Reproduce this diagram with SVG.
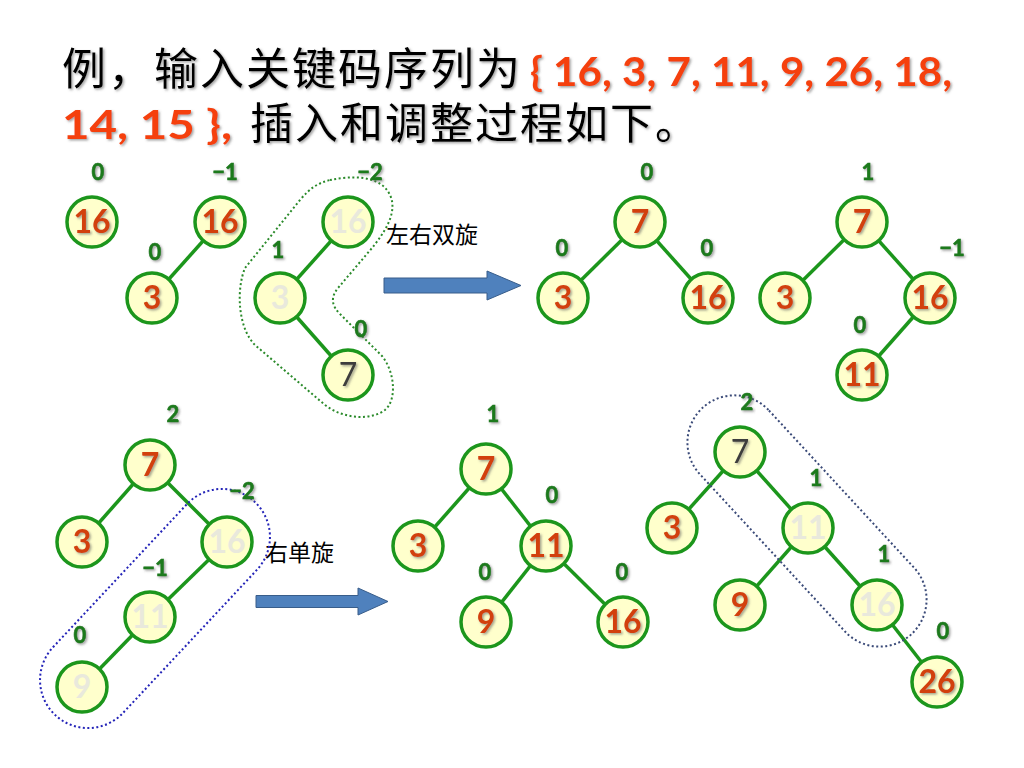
<svg xmlns="http://www.w3.org/2000/svg" width="1024" height="768" viewBox="0 0 1024 768">
<defs>
<filter id="sh" x="-20%" y="-20%" width="140%" height="140%">
<feDropShadow dx="1.5" dy="1.5" stdDeviation="0.8" flood-color="#555" flood-opacity="0.55"/>
</filter>
<style>
.n circle{fill:#FFFFCC;stroke:#1C961C;stroke-width:3.5}
.n text{font-family:Lato,"Open Sans","Liberation Sans",sans-serif;font-weight:bold;font-size:32px;text-anchor:middle;fill:#D2400C;filter:url(#sh)}
.n text.f{fill:#E9E9DC;filter:none}
.n text.d{fill:#3C3C3C;font-weight:normal}
.e line{stroke:#1C961C;stroke-width:3.5}
.b{font-family:Lato,"Open Sans","Liberation Sans",sans-serif;font-weight:bold;font-size:22px;text-anchor:middle;fill:#1F7A1F;stroke:#1F7A1F;stroke-width:0.6;filter:url(#sh)}
.cj{font-family:"Noto Sans CJK SC","Noto Sans CJK JP",sans-serif;fill:#000}
.tr{font-family:Lato,"Open Sans","Liberation Sans",sans-serif;font-weight:bold;fill:#F5400F}
.arr{fill:#4F81BD;stroke:#385D8A;stroke-width:1}
</style>
</defs>
<rect width="1024" height="768" fill="#fff"/>

<g id="title" filter="url(#sh)">
<text class="cj" x="62" y="85" font-size="44" letter-spacing="2">例，输入关键码序列为</text>
<text class="tr" x="530" y="86" font-size="40" textLength="422" lengthAdjust="spacingAndGlyphs">{ 16, 3, 7, 11, 9, 26, 18,</text>
<text class="tr" x="62" y="139" font-size="40" textLength="170" lengthAdjust="spacingAndGlyphs">14, 15 },</text>
<text class="cj" x="250" y="139" font-size="43" letter-spacing="2">插入和调整过程如下。</text>
</g>

<g id="outlines" fill="none">
<path d="M330,180 C350,176 380,174 390,195 C398,212 385,232 372,248 L338,288 C330,298 332,306 340,314 L382,356 C395,372 397,400 385,410 C372,420 345,420 325,405 L255,345 C238,328 236,290 245,268 L300,200 C310,188 318,183 330,180 Z" stroke="#2A8A2A" stroke-width="2" stroke-dasharray="2 2.5"/>
</g>

<g id="connectors" class="e">
<line x1="220" y1="222" x2="152" y2="298"/>
<line x1="348" y1="222" x2="280" y2="298"/>
<line x1="280" y1="298" x2="348" y2="375"/>
<line x1="640" y1="222" x2="563" y2="298"/>
<line x1="640" y1="222" x2="708" y2="298"/>
<line x1="862" y1="222" x2="785" y2="298"/>
<line x1="862" y1="222" x2="930" y2="298"/>
<line x1="930" y1="298" x2="862" y2="375"/>
<line x1="150" y1="465" x2="82" y2="542"/>
<line x1="150" y1="465" x2="227" y2="542"/>
<line x1="227" y1="542" x2="150" y2="617"/>
<line x1="150" y1="617" x2="82" y2="687"/>
<line x1="486" y1="469" x2="418" y2="546"/>
<line x1="486" y1="469" x2="546" y2="546"/>
<line x1="546" y1="546" x2="486" y2="622"/>
<line x1="546" y1="546" x2="623" y2="622"/>
<line x1="740" y1="452" x2="672" y2="528"/>
<line x1="740" y1="452" x2="808" y2="528"/>
<line x1="808" y1="528" x2="740" y2="605"/>
<line x1="808" y1="528" x2="877" y2="605"/>
<line x1="877" y1="605" x2="937" y2="682"/>
</g>

<g id="arrow1"><polygon class="arr" points="384,278 487,278 487,271 521,285.5 487,300 487,293 384,293"/></g>
<g id="arrow2"><polygon class="arr" points="256,595.5 358,595.5 358,588 388,601.5 358,615 358,607.5 256,607.5"/></g>
<text id="lbl1" class="cj" x="386" y="243" font-size="23">左右双旋</text>
<text id="lbl2" class="cj" x="265" y="561" font-size="23">右单旋</text>

<g id="a1_16" class="n"><circle cx="92" cy="222" r="25"/><text x="92" y="233">16</text></g>
<g id="a2_16" class="n"><circle cx="220" cy="222" r="25"/><text x="220" y="233">16</text></g>
<g id="a2_3" class="n"><circle cx="152" cy="298" r="25"/><text x="152" y="309">3</text></g>
<g id="a3_16" class="n"><circle cx="348" cy="222" r="25"/><text class="f" x="348" y="233">16</text></g>
<g id="a3_3" class="n"><circle cx="280" cy="298" r="25"/><text class="f" x="280" y="309">3</text></g>
<g id="a3_7" class="n"><circle cx="348" cy="375" r="25"/><text class="d" x="348" y="386">7</text></g>

<g id="b1_7" class="n"><circle cx="640" cy="222" r="25"/><text x="640" y="233">7</text></g>
<g id="b1_3" class="n"><circle cx="563" cy="298" r="25"/><text x="563" y="309">3</text></g>
<g id="b1_16" class="n"><circle cx="708" cy="298" r="25"/><text x="708" y="309">16</text></g>
<g id="b2_7" class="n"><circle cx="862" cy="222" r="25"/><text x="862" y="233">7</text></g>
<g id="b2_3" class="n"><circle cx="785" cy="298" r="25"/><text x="785" y="309">3</text></g>
<g id="b2_16" class="n"><circle cx="930" cy="298" r="25"/><text x="930" y="309">16</text></g>
<g id="b2_11" class="n"><circle cx="862" cy="375" r="25"/><text x="862" y="386">11</text></g>

<g id="c1_7" class="n"><circle cx="150" cy="465" r="25"/><text x="150" y="476">7</text></g>
<g id="c1_3" class="n"><circle cx="82" cy="542" r="25"/><text x="82" y="553">3</text></g>
<g id="c1_16" class="n"><circle cx="227" cy="542" r="25"/><text class="f" x="227" y="553">16</text></g>
<g id="c1_11" class="n"><circle cx="150" cy="617" r="25"/><text class="f" x="150" y="628">11</text></g>
<g id="c1_9" class="n"><circle cx="82" cy="687" r="25"/><text class="f" x="82" y="698">9</text></g>

<g id="c2_7" class="n"><circle cx="486" cy="469" r="25"/><text x="486" y="480">7</text></g>
<g id="c2_3" class="n"><circle cx="418" cy="546" r="25"/><text x="418" y="557">3</text></g>
<g id="c2_11" class="n"><circle cx="546" cy="546" r="25"/><text x="546" y="557">11</text></g>
<g id="c2_9" class="n"><circle cx="486" cy="622" r="25"/><text x="486" y="633">9</text></g>
<g id="c2_16" class="n"><circle cx="623" cy="622" r="25"/><text x="623" y="633">16</text></g>

<g id="c3_7" class="n"><circle cx="740" cy="452" r="25"/><text class="d" x="740" y="463">7</text></g>
<g id="c3_3" class="n"><circle cx="672" cy="528" r="25"/><text x="672" y="539">3</text></g>
<g id="c3_11" class="n"><circle cx="808" cy="528" r="25"/><text class="f" x="808" y="539">11</text></g>
<g id="c3_9" class="n"><circle cx="740" cy="605" r="25"/><text x="740" y="616">9</text></g>
<g id="c3_16" class="n"><circle cx="877" cy="605" r="25"/><text class="f" x="877" y="616">16</text></g>
<g id="c3_26" class="n"><circle cx="937" cy="682" r="25"/><text x="937" y="693">26</text></g>

<g id="outlines2" fill="none" stroke-width="2" stroke-dasharray="2 2.5">
<rect x="9" y="560.5" width="292" height="96" rx="48" transform="rotate(-46.9 155 608.5)" stroke="#2424B8"/>
<rect x="653" y="474" width="308" height="94" rx="47" transform="rotate(47.3 807 521)" stroke="#3A4A78"/>
</g>

<g id="balance">
<text class="b" x="98" y="180">0</text>
<text class="b" x="225" y="180">−1</text>
<text class="b" x="155" y="260">0</text>
<text class="b" x="278" y="258">1</text>
<text class="b" x="370" y="180">−2</text>
<text class="b" x="361" y="337">0</text>
<text class="b" x="647" y="180">0</text>
<text class="b" x="562" y="256">0</text>
<text class="b" x="707" y="256">0</text>
<text class="b" x="868" y="180">1</text>
<text class="b" x="952" y="256">−1</text>
<text class="b" x="860" y="333">0</text>
<text class="b" x="173" y="422">2</text>
<text class="b" x="242" y="499">−2</text>
<text class="b" x="155" y="576">−1</text>
<text class="b" x="80" y="643">0</text>
<text class="b" x="493" y="422">1</text>
<text class="b" x="552" y="503">0</text>
<text class="b" x="485" y="580">0</text>
<text class="b" x="622" y="580">0</text>
<text class="b" x="747" y="410">2</text>
<text class="b" x="816" y="486">1</text>
<text class="b" x="884" y="562">1</text>
<text class="b" x="943" y="639">0</text>
</g>
</svg>
